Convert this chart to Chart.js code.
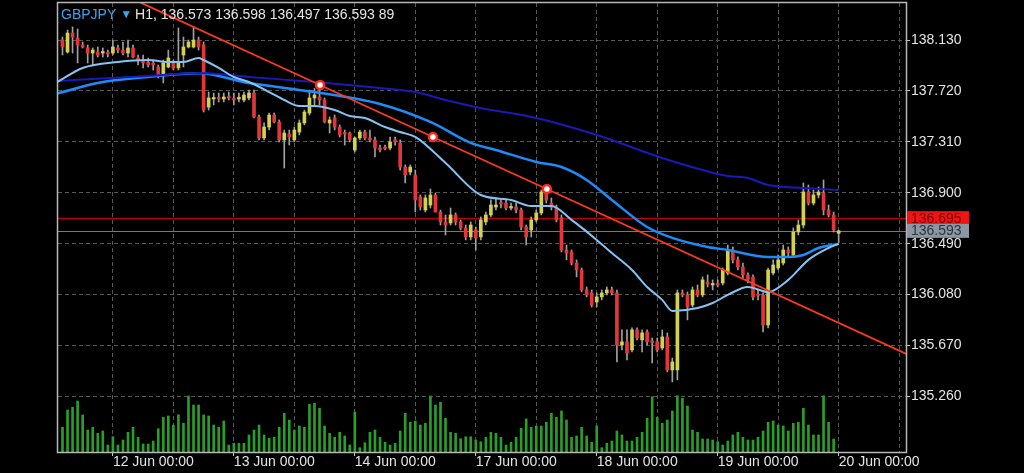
<!DOCTYPE html>
<html>
<head>
<meta charset="utf-8">
<title>GBPJPY H1</title>
<script src="https://cdn.jsdelivr.net/npm/chart.js@4.4.1/dist/chart.umd.min.js"></script>
<style>
  html, body { margin: 0; padding: 0; background: #000; }
  #wrap { width: 1024px; height: 473px; }
</style>
</head>
<body>
<div id="wrap"><canvas id="chart" width="1024" height="473"></canvas></div>
<script>
// Symbol info shown in the header
const symbolName = 'GBPJPY';
const timeframe = 'H1';
const lastVolume = 89;

// Hourly candles, bar 0 = 11 Jun 14:00
const opens = [
  138.130, 138.033, 138.186, 138.146, 138.090, 138.066, 138.025, 138.033, 138.025, 138.025,
  138.025, 138.066, 138.049, 138.025, 138.066, 137.985, 137.953, 137.953, 137.945, 137.913,
  137.848, 137.913, 137.945, 137.905, 138.009, 138.074, 138.074, 138.130, 138.090, 137.590,
  137.655, 137.663, 137.655, 137.671, 137.655, 137.655, 137.647, 137.663, 137.703, 137.510,
  137.341, 137.429, 137.526, 137.470, 137.325, 137.373, 137.325, 137.389, 137.462, 137.542,
  137.663, 137.671, 137.647, 137.462, 137.502, 137.429, 137.381, 137.381, 137.244, 137.341,
  137.389, 137.341, 137.325, 137.260, 137.260, 137.260, 137.325, 137.301, 137.107, 137.067,
  137.043, 136.866, 136.761, 136.801, 136.882, 136.745, 136.665, 136.657, 136.721, 136.665,
  136.616, 136.544, 136.600, 136.544, 136.665, 136.721, 136.785, 136.817, 136.817, 136.777,
  136.785, 136.761, 136.624, 136.600, 136.681, 136.737, 136.906, 136.817, 136.777, 136.697,
  136.439, 136.423, 136.334, 136.278, 136.117, 136.093, 136.020, 136.061, 136.093, 136.117,
  136.093, 135.674, 135.699, 135.634, 135.795, 135.715, 135.779, 135.699, 135.699, 135.650,
  135.739, 135.473, 135.473, 136.093, 136.077, 135.996, 136.117, 136.077, 136.181, 136.157,
  136.165, 136.173, 136.254, 136.439, 136.359, 136.302, 136.238, 136.222, 136.077, 136.077,
  135.835, 136.254, 136.294, 136.334, 136.439, 136.399, 136.584, 136.640, 136.906, 136.817,
  136.882, 136.898, 136.761, 136.721, 136.573
];
const highs = [
  138.154, 138.210, 138.235, 138.219, 138.114, 138.090, 138.066, 138.074, 138.066, 138.049,
  138.130, 138.090, 138.114, 138.130, 138.090, 138.009, 138.009, 137.985, 137.969, 137.929,
  137.969, 138.049, 137.969, 138.227, 138.154, 138.130, 138.235, 138.154, 138.114, 137.711,
  137.703, 137.703, 137.703, 137.711, 137.703, 137.703, 137.711, 137.727, 137.727, 137.526,
  137.462, 137.542, 137.542, 137.486, 137.405, 137.405, 137.429, 137.486, 137.566, 137.727,
  137.740, 137.768, 137.663, 137.510, 137.526, 137.446, 137.405, 137.389, 137.349, 137.405,
  137.405, 137.405, 137.349, 137.284, 137.284, 137.349, 137.349, 137.325, 137.124, 137.124,
  137.083, 136.882, 136.882, 136.930, 136.898, 136.761, 136.721, 136.777, 136.737, 136.681,
  136.640, 136.665, 136.624, 136.705, 136.745, 136.842, 136.858, 136.842, 136.842, 136.817,
  136.817, 136.777, 136.640, 136.705, 136.761, 136.922, 136.930, 136.858, 136.801, 136.721,
  136.479, 136.439, 136.359, 136.294, 136.141, 136.117, 136.093, 136.117, 136.141, 136.141,
  136.117, 135.795, 135.795, 135.811, 135.811, 135.795, 135.795, 135.730, 135.730, 135.795,
  135.771, 135.569, 136.117, 136.117, 136.101, 136.141, 136.157, 136.222, 136.238, 136.198,
  136.198, 136.294, 136.479, 136.463, 136.383, 136.334, 136.254, 136.238, 136.117, 136.093,
  136.294, 136.359, 136.399, 136.479, 136.463, 136.616, 136.681, 136.979, 136.962, 136.922,
  136.946, 137.003, 136.801, 136.745, 136.598
];
const lows = [
  138.009, 138.025, 138.025, 137.945, 138.066, 137.945, 137.929, 137.993, 137.993, 137.993,
  138.009, 138.025, 138.009, 137.993, 137.985, 137.929, 137.905, 137.913, 137.888, 137.824,
  137.784, 137.905, 137.888, 137.888, 137.913, 138.066, 138.066, 138.049, 137.550, 137.566,
  137.607, 137.631, 137.631, 137.647, 137.607, 137.631, 137.631, 137.647, 137.502, 137.325,
  137.325, 137.405, 137.462, 137.309, 137.099, 137.284, 137.309, 137.365, 137.446, 137.526,
  137.607, 137.607, 137.462, 137.381, 137.405, 137.349, 137.284, 137.309, 137.228, 137.325,
  137.325, 137.309, 137.188, 137.228, 137.244, 137.244, 137.284, 137.083, 136.979, 137.043,
  136.745, 136.761, 136.745, 136.777, 136.745, 136.640, 136.560, 136.640, 136.640, 136.600,
  136.520, 136.520, 136.439, 136.520, 136.640, 136.705, 136.761, 136.777, 136.761, 136.761,
  136.737, 136.600, 136.479, 136.544, 136.665, 136.721, 136.817, 136.761, 136.665, 136.423,
  136.359, 136.318, 136.222, 136.101, 136.061, 135.980, 135.980, 136.037, 136.077, 136.077,
  135.537, 135.634, 135.554, 135.618, 135.715, 135.618, 135.674, 135.529, 135.618, 135.634,
  135.457, 135.376, 135.393, 136.061, 135.876, 135.980, 136.061, 136.061, 136.141, 136.117,
  136.141, 136.157, 136.238, 136.334, 136.278, 136.214, 136.173, 136.037, 136.037, 135.779,
  135.811, 136.238, 136.278, 136.318, 136.383, 136.383, 136.560, 136.616, 136.801, 136.801,
  136.858, 136.721, 136.705, 136.584, 136.497
];
const closes = [
  138.074, 138.186, 138.154, 138.090, 138.074, 138.025, 138.049, 138.009, 138.033, 138.017,
  138.074, 138.049, 138.025, 138.066, 137.993, 137.969, 137.945, 137.929, 137.929, 137.848,
  137.945, 137.985, 137.905, 137.945, 138.074, 138.114, 138.130, 138.074, 137.566, 137.663,
  137.663, 137.655, 137.671, 137.663, 137.647, 137.663, 137.687, 137.703, 137.510, 137.341,
  137.429, 137.526, 137.470, 137.325, 137.381, 137.349, 137.405, 137.462, 137.550, 137.663,
  137.687, 137.647, 137.470, 137.486, 137.429, 137.365, 137.373, 137.325, 137.341, 137.389,
  137.341, 137.325, 137.260, 137.244, 137.256, 137.309, 137.309, 137.107, 137.043, 137.107,
  136.842, 136.785, 136.858, 136.882, 136.745, 136.665, 136.640, 136.721, 136.665, 136.616,
  136.544, 136.640, 136.536, 136.681, 136.721, 136.801, 136.801, 136.809, 136.777, 136.785,
  136.761, 136.624, 136.544, 136.681, 136.737, 136.906, 136.842, 136.785, 136.681, 136.439,
  136.415, 136.334, 136.278, 136.117, 136.077, 135.996, 136.061, 136.093, 136.117, 136.093,
  135.674, 135.699, 135.610, 135.795, 135.730, 135.771, 135.699, 135.695, 135.634, 135.739,
  135.473, 135.537, 136.093, 136.077, 135.980, 136.117, 136.077, 136.198, 136.165, 136.165,
  136.157, 136.278, 136.439, 136.359, 136.302, 136.238, 136.198, 136.061, 136.069, 135.835,
  136.278, 136.318, 136.359, 136.439, 136.415, 136.584, 136.640, 136.906, 136.817, 136.882,
  136.906, 136.761, 136.721, 136.600, 136.593
];
// Tick volumes (no bar is drawn under the last candle)
const volumes = [
  173, 294, 313, 357, 259, 154, 173, 131, 147, 49,
  107, 49, 84, 138, 173, 103, 56, 56, 77, 163,
  243, 252, 189, 261, 201, 392, 329, 329, 259, 252,
  189, 173, 217, 49, 61, 61, 61, 119, 154, 189,
  119, 96, 103, 173, 271, 224, 154, 182, 173, 334,
  341, 306, 182, 131, 103, 138, 112, 49, 280, 30,
  65, 138, 154, 103, 68, 49, 61, 147, 271, 208,
  217, 189, 201, 392, 329, 348, 236, 138, 131, 93,
  107, 107, 84, 72, 103, 138, 131, 103, 49, 68,
  103, 166, 232, 173, 182, 182, 208, 271, 243, 287,
  224, 103, 112, 173, 112, 68, 182, 30, 61, 77,
  147, 119, 77, 77, 103, 138, 236, 387, 243, 201,
  224, 287, 394, 376, 322, 154, 138, 91, 91, 84,
  72, 49, 77, 119, 138, 103, 84, 84, 103, 147,
  208, 217, 189, 182, 147, 201, 208, 306, 189, 119,
  119, 394, 208, 91, null
];

// Moving averages (bar index / price)
const maFastIdx = [-1, 4, 11, 17, 21, 24, 27, 28, 31, 34, 37, 41, 44, 47, 50, 54, 57, 60, 64, 67, 70, 76, 83, 89, 93, 97, 101, 106, 109, 113, 116, 119, 121, 126, 129, 132, 136, 140, 144, 148, 152, 154];
const maFast = [137.792, 137.905, 137.953, 137.969, 137.953, 137.953, 137.985, 137.969, 137.905, 137.832, 137.792, 137.711, 137.647, 137.598, 137.598, 137.566, 137.518, 137.502, 137.429, 137.389, 137.349, 137.140, 136.882, 136.842, 136.793, 136.793, 136.681, 136.520, 136.415, 136.278, 136.141, 136.037, 135.948, 135.972, 136.012, 136.077, 136.141, 136.101, 136.198, 136.359, 136.455, 136.488];
const maMidIdx = [-1, 7, 17, 27, 37, 50, 63, 73, 81, 86, 94, 99, 104, 109, 116, 121, 128, 132, 140, 144, 147, 150, 154];
const maMid = [137.700, 137.784, 137.832, 137.862, 137.784, 137.711, 137.615, 137.470, 137.301, 137.244, 137.148, 137.107, 137.003, 136.842, 136.624, 136.536, 136.463, 136.439, 136.383, 136.383, 136.399, 136.455, 136.488];
const maSlowIdx = [-1, 17, 27, 37, 50, 63, 70, 76, 83, 94, 106, 119, 127, 132, 136, 140, 147, 154];
const maSlow = [137.800, 137.840, 137.864, 137.832, 137.792, 137.743, 137.711, 137.647, 137.582, 137.502, 137.365, 137.180, 137.083, 137.035, 137.019, 136.962, 136.938, 136.922];

// Trend line: two anchors, the middle handle and both ray ends
const trendIdx = [-1, 51.1, 73.5, 96.1, 168];
const trendPrice = [138.738, 137.768, 137.349, 136.930, 135.591];

// Horizontal price lines
const askPrice = 136.695;
const bidPrice = 136.593;

// Axis ticks
const priceTicks = [138.130, 137.720, 137.310, 136.900, 136.490, 136.080, 135.670, 135.260];
const dayTickIdx = [10, 34, 58, 82, 106, 130, 154];
const dayLabels = ['12 Jun 00:00', '13 Jun 00:00', '14 Jun 00:00', '17 Jun 00:00', '18 Jun 00:00', '19 Jun 00:00', '20 Jun 00:00'];
const gridTickIdx = [10, 22, 34, 46, 58, 70, 82, 94, 106, 118, 130, 142, 154, 166];

const FONT = "'Liberation Sans', Arial, Helvetica, sans-serif";
const BULL = '#d2d24e';
const BEAR = '#e3363a';
const WICK = '#a0a0a0';
const TEXT = '#e4e4e4';

function toPoints(xs, ys) {
  return xs.map((x, i) => ({ x: x, y: ys[i] }));
}

// Keep the plot box fixed: no label overhang padding
function noPadding(s) {
  s.paddingTop = 0;
  s.paddingBottom = 0;
  s.paddingLeft = 0;
  s.paddingRight = 0;
}

const candleBodies = opens.map((o, i) => ({ x: i, y: [o, closes[i]] }));
const candleWicks = lows.map((l, i) => ({ x: i, y: [l, highs[i]] }));
const candleColors = closes.map((c, i) => c >= opens[i] ? BULL : BEAR);
const volumeBars = volumes.map((v, i) => ({ x: i, y: v }));

// Black background, price lines under the candles
const backdrop = {
  id: 'backdrop',
  beforeDraw(chart) {
    const ctx = chart.ctx;
    ctx.save();
    ctx.fillStyle = '#000';
    ctx.fillRect(0, 0, chart.width, chart.height);
    ctx.restore();
  },
  beforeDatasetsDraw(chart) {
    const ctx = chart.ctx;
    const a = chart.chartArea;
    const y = chart.scales.y;
    ctx.save();
    ctx.lineWidth = 1.5;
    ctx.strokeStyle = '#b30000';
    ctx.beginPath();
    ctx.moveTo(a.left, Math.round(y.getPixelForValue(askPrice)) + 0.5);
    ctx.lineTo(a.right, Math.round(y.getPixelForValue(askPrice)) + 0.5);
    ctx.stroke();
    ctx.lineWidth = 1;
    ctx.strokeStyle = '#6f7a85';
    ctx.beginPath();
    ctx.moveTo(a.left, Math.round(y.getPixelForValue(bidPrice)) + 0.5);
    ctx.lineTo(a.right, Math.round(y.getPixelForValue(bidPrice)) + 0.5);
    ctx.stroke();
    ctx.restore();
  }
};

// Frame, price tags and the header text
const overlay = {
  id: 'overlay',
  afterDraw(chart) {
    const ctx = chart.ctx;
    const a = chart.chartArea;
    const y = chart.scales.y;
    ctx.save();
    ctx.strokeStyle = '#b8b8b8';
    ctx.lineWidth = 1.5;
    ctx.strokeRect(a.left - 0.5, a.top - 0.5, a.right - a.left + 1, a.bottom - a.top + 1);

    ctx.font = '14px ' + FONT;
    ctx.textBaseline = 'middle';
    ctx.textAlign = 'left';
    const tags = [
      { v: askPrice, bg: '#f01414', fg: '#7a0000' },
      { v: bidPrice, bg: '#8b97a3', fg: '#2c343c' }
    ];
    tags.forEach(t => {
      const py = y.getPixelForValue(t.v);
      ctx.fillStyle = t.bg;
      ctx.fillRect(a.right + 1, py - 7, 62, 14);
      ctx.fillStyle = t.fg;
      ctx.fillText(t.v.toFixed(3), a.right + 5, py + 0.5);
    });

    // Header: symbol, timeframe, last bar OHLC and volume
    const last = opens.length - 1;
    ctx.textBaseline = 'alphabetic';
    let x = a.left + 3;
    ctx.fillStyle = '#3ea3ee';
    ctx.fillText(symbolName, x, 18.5);
    x += ctx.measureText(symbolName).width + 4;
    ctx.font = '12px ' + FONT;
    ctx.fillText('\u25BC', x, 18);
    x += ctx.measureText('\u25BC').width + 3;
    ctx.font = '14px ' + FONT;
    ctx.fillStyle = TEXT;
    const info = timeframe + ', ' + opens[last].toFixed(3) + ' ' + highs[last].toFixed(3) + ' ' +
      lows[last].toFixed(3) + ' ' + closes[last].toFixed(3) + ' ' + lastVolume;
    ctx.fillText(info, x, 18.5);
    ctx.restore();
  }
};

new Chart(document.getElementById('chart'), {
  type: 'bar',
  data: {
    datasets: [
      {
        label: 'Volume', data: volumeBars, yAxisID: 'yVol', backgroundColor: '#2a9e2a',
        barThickness: 2, grouped: false, order: 5
      },
      {
        label: 'Wicks', data: candleWicks, backgroundColor: WICK,
        barThickness: 1, grouped: false, order: 4
      },
      {
        label: 'Bodies', data: candleBodies, backgroundColor: candleColors,
        barThickness: 3, minBarLength: 1.5, grouped: false, order: 3
      },
      {
        type: 'line', label: 'MA slow', data: toPoints(maSlowIdx, maSlow),
        borderColor: '#1a1ab8', borderWidth: 2, pointRadius: 0, cubicInterpolationMode: 'monotone', order: 2
      },
      {
        type: 'line', label: 'MA mid', data: toPoints(maMidIdx, maMid),
        borderColor: '#1d8cf8', borderWidth: 2.5, pointRadius: 0, cubicInterpolationMode: 'monotone', order: 2
      },
      {
        type: 'line', label: 'MA fast', data: toPoints(maFastIdx, maFast),
        borderColor: '#86c2f2', borderWidth: 2, pointRadius: 0, cubicInterpolationMode: 'monotone', order: 1
      },
      {
        type: 'line', label: 'Trend', data: toPoints(trendIdx, trendPrice),
        borderColor: '#ff3a1c', borderWidth: 1.8, tension: 0,
        pointRadius: [0, 4, 4, 4, 0], pointBorderWidth: 2.5,
        pointBackgroundColor: '#ffffff', pointBorderColor: '#ff2a1a', order: 0
      }
    ]
  },
  options: {
    responsive: false,
    animation: false,
    devicePixelRatio: 1,
    layout: { padding: { left: 58, top: 3, right: 0, bottom: 0 }, autoPadding: false },
    plugins: { legend: { display: false }, tooltip: { enabled: false } },
    scales: {
      x: {
        type: 'linear', min: -0.89, max: 167.36, offset: false,
        afterBuildTicks: s => { s.ticks = gridTickIdx.map(v => ({ value: v })); },
        afterFit: s => { s.height = 21; noPadding(s); },
        grid: {
          color: '#555555', offset: false, tickLength: 4, tickBorderDash: [],
          tickColor: c => (c.tick && dayTickIdx.includes(c.tick.value)) ? '#c8c8c8' : 'rgba(0,0,0,0)'
        },
        border: { display: false, dash: [4, 3] },
        ticks: {
          autoSkip: false, maxRotation: 0, align: 'start', padding: -2,
          color: TEXT, font: { family: FONT, size: 14 },
          callback: v => {
            const k = dayTickIdx.indexOf(v);
            return k >= 0 ? dayLabels[k] : '';
          }
        }
      },
      y: {
        position: 'right', min: 134.812, max: 138.428,
        afterBuildTicks: s => { s.ticks = priceTicks.map(v => ({ value: v })); },
        afterFit: s => { s.width = 118; noPadding(s); },
        grid: { color: '#555555', tickLength: 4, tickColor: '#c8c8c8', tickBorderDash: [] },
        border: { display: false, dash: [4, 3] },
        ticks: {
          autoSkip: false, padding: 1, color: TEXT, font: { family: FONT, size: 14 },
          callback: v => v.toFixed(3)
        }
      },
      yVol: { display: false, min: 0, max: 3143 }
    }
  },
  plugins: [backdrop, overlay]
});
</script>
</body>
</html>
